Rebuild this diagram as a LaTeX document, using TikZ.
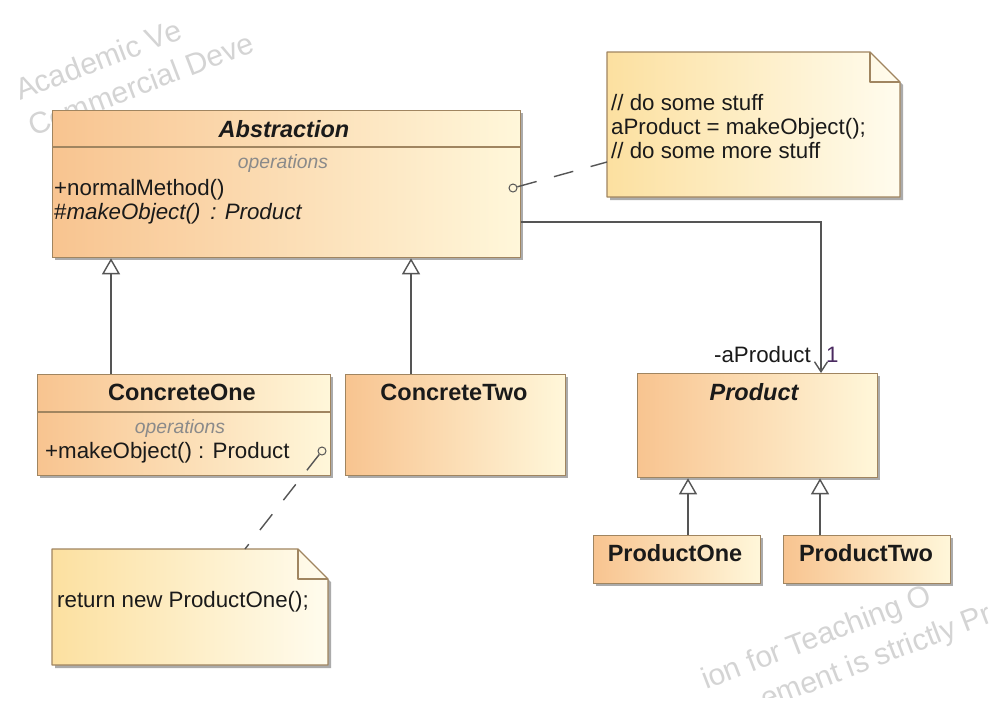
\documentclass[tikz,border=0pt]{standalone}
\usepackage{fontspec}
\setmainfont{Liberation Sans}
\usetikzlibrary{arrows.meta}
\definecolor{boxL}{HTML}{F8C490}
\definecolor{boxR}{HTML}{FFF7DA}
\definecolor{noteL}{HTML}{FCE0A0}
\definecolor{noteR}{HTML}{FFFCEE}
\definecolor{bord}{HTML}{A08560}
\definecolor{shad}{HTML}{ABABAB}
\definecolor{lnk}{HTML}{555555}
\definecolor{txt}{HTML}{1A1A1A}
\definecolor{opsc}{HTML}{8A8A8A}
\definecolor{wm}{HTML}{D4D4D4}
\definecolor{mult}{HTML}{4A2A60}
\newcommand\fsT{\fontsize{23.5}{28}\selectfont}
\newcommand\fsR{\fontsize{22.3}{26}\selectfont}
\newcommand\fsO{\fontsize{19.3}{23}\selectfont}
\newcommand\fsW{\fontsize{30}{35}\selectfont}
\newcommand\umlbox[5]{%
  \fill[shad] (#2+3,#3+3) rectangle (#4+3,#5+3);
  \node[umlclass, minimum width={(#4-#2)*1pt}, minimum height={(#5-#3)*1pt}] (#1) at (#2,#3) {};}
\newcommand\notebox[6]{%
  \fill[shad] (#2+3,#3+3) -- (#4-#6+3,#3+3) -- (#4+3,#3+#6+3) -- (#4+3,#5+3) -- (#2+3,#5+3) -- cycle;
  \shade[notefill] (#2,#3) -- (#4-#6,#3) -- (#4,#3+#6) -- (#4,#5) -- (#2,#5) -- cycle;
  \draw[bord, line width=1.3pt, line join=round] (#4-#6,#3) -- (#4-#6,#3+#6) -- (#4,#3+#6);
  \node[inner sep=0pt, anchor=north west, minimum width={(#4-#2)*1pt}, minimum height={(#5-#3)*1pt}] (#1) at (#2,#3) {};}
\tikzset{
  umlclass/.style={draw=bord, line width=1.3pt, left color=boxL, right color=boxR, inner sep=0pt, anchor=north west},
  notefill/.style={draw=bord, line width=1.3pt, left color=noteL, right color=noteR, line join=round},
  sepline/.style={draw=bord, line width=1.3pt},
  lbl/.style={inner sep=0pt, text=txt},
  opslbl/.style={inner sep=0pt, text=opsc, font=\fsO\itshape},
  wmk/.style={inner sep=0pt, text=wm, font=\fsW, rotate=21},
  genl/.style={draw=lnk, line width=1.4pt, -{Triangle[open, length=16pt, width=18pt, fill=white]}},
  assoc/.style={draw=lnk, line width=1.4pt, -{Straight Barb[length=10pt, width=13pt]}},
  notel/.style={draw=lnk, line width=1.4pt, dash pattern=on 20pt off 18pt},
  anchorc/.style={circle, draw=lnk, line width=1pt, minimum size=8pt, inner sep=0pt}
}
\begin{document}
\begin{tikzpicture}[x=1pt,y=-1pt]
\useasboundingbox (0,0) rectangle (992,702);
\fill[white] (0,0) rectangle (992,702);
% watermark
\begin{scope}
\clip (0,20) rectangle (992,697);
\node[wmk, anchor=base west] (w1) at (20,101) {Academic Ve};
\node[wmk, anchor=base west] (w2) at (33,137) {Commercial Deve};
\node[wmk, anchor=base west] (w3) at (706,690) {ion for Teaching O};
\node[wmk, anchor=base west] (w4) at (765,710) {ement is strictly Pr};
\end{scope}
% classes
\umlbox{abs}{52}{110}{520}{257}
\draw[sepline] (abs.west |- 0,147) -- (abs.east |- 0,147);
\node[lbl, anchor=base, font=\fsT\bfseries\itshape] (absT) at (284,137) {Abstraction};
\node[opslbl, anchor=base] (absO) at (283,168) {operations};
\node[lbl, anchor=base west, font=\fsR] (absM1) at (54,195) {+normalMethod()};
\node[lbl, anchor=base west, font=\fsR] (absM2) at (54,219) {\#\textit{makeObject()\, : Product}};
\node[anchorc] (anc1) at (513,188) {};

\umlbox{c1}{37}{374}{330}{475}
\draw[sepline] (c1.west |- 0,412) -- (c1.east |- 0,412);
\node[lbl, anchor=base, font=\fsT\bfseries] (c1T) at (182,400) {ConcreteOne};
\node[opslbl, anchor=base] (c1O) at (180,433) {operations};
\node[lbl, anchor=base west, font=\fsR] (c1M) at (45,458) {+makeObject() : Product};
\node[anchorc] (anc2) at (322,451) {};

\umlbox{c2}{345}{374}{565}{475}
\node[lbl, anchor=base, font=\fsT\bfseries] (c2T) at (454,400) {ConcreteTwo};

\umlbox{prod}{637}{373}{877}{477}
\node[lbl, anchor=base, font=\fsT\bfseries\itshape] (prodT) at (754,400) {Product};

\umlbox{p1}{593}{535}{760}{583}
\node[lbl, anchor=base, font=\fsT\bfseries] (p1T) at (675,561) {ProductOne};
\umlbox{p2}{783}{535}{950}{583}
\node[lbl, anchor=base, font=\fsT\bfseries] (p2T) at (866,561) {ProductTwo};

% notes
\notebox{n1}{607}{52}{900}{197}{30}
\node[lbl, anchor=base west, font=\fsR] (n1a) at (611,110) {// do some stuff};
\node[lbl, anchor=base west, font=\fsR] (n1b) at (611,134) {aProduct = makeObject();};
\node[lbl, anchor=base west, font=\fsR] (n1c) at (611,158) {// do some more stuff};
\notebox{n2}{52}{549}{328}{665}{30}
\node[lbl, anchor=base west, font=\fsR] (n2a) at (57,607) {return new ProductOne();};

% connectors
\draw[genl] ([xshift=74pt]c1.north west) -- ([xshift=59pt]abs.south west);
\draw[genl] ([xshift=66pt]c2.north west) -- ([xshift=359pt]abs.south west);
\draw[genl] ([xshift=95pt]p1.north west) -- ([xshift=51pt]prod.south west);
\draw[genl] ([xshift=37pt]p2.north west) -- ([xshift=183pt]prod.south west);
\draw[assoc] ([yshift=-112pt]abs.north east) -| ([xshift=184pt]prod.north west);
\node[lbl, anchor=base east, font=\fsR] (rl) at (811,362) {-aProduct};
\node[lbl, anchor=base west, font=\fsR, text=mult] (ml) at (826,362) {1};
\draw[notel] (anc1) -- ([yshift=-110pt]n1.north west);
\draw[notel] (anc2) -- ([xshift=193pt]n2.north west);
\end{tikzpicture}
\end{document}
